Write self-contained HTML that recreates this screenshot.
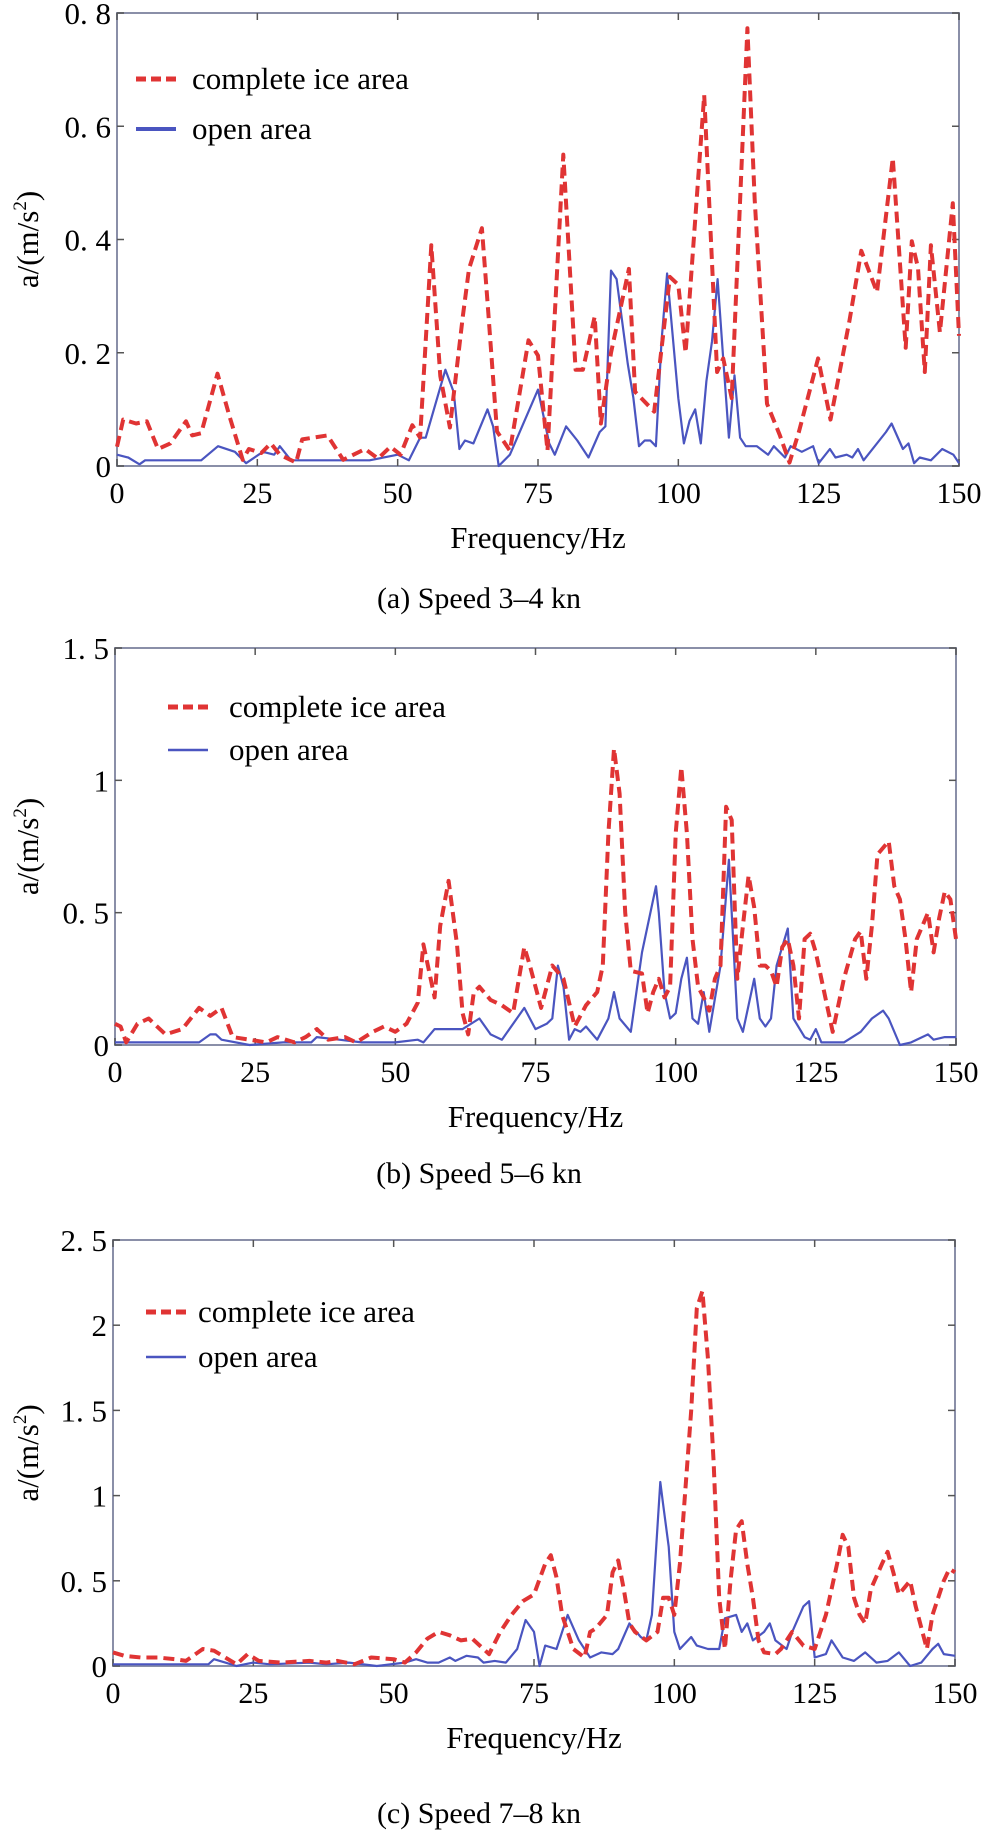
<!DOCTYPE html>
<html><head><meta charset="utf-8"><style>
html,body{margin:0;padding:0;background:#fff;}
svg{display:block;font-family:"Liberation Serif",serif;}
</style></head><body>
<svg id="fig" width="986" height="1833" viewBox="0 0 986 1833" xmlns="http://www.w3.org/2000/svg"></svg>
<script>
const xTicks=[0,25,50,75,100,125,150];
const yTicksA=[0,0.2,0.4,0.6,0.8], yLabA=["0","0. 2","0. 4","0. 6","0. 8"];
const yTicksB=[0,0.5,1,1.5], yLabB=["0","0. 5","1","1. 5"];
const yTicksC=[0,0.5,1,1.5,2,2.5], yLabC=["0","0. 5","1","1. 5","2","2. 5"];

const iceFA=[0,1.1,3.4,5.3,7.3,9.5,12.3,13.4,15,17.9,20,22.4,23.5,25.7,27.4,29,31.9,33,37.5,40.3,44.2,46.5,48.7,50.5,52.6,54,56,57.6,59.3,61.6,62.7,65,66,67.7,70,73.3,75,76.7,79.5,81.7,83,85.1,86.2,88,91.2,92.3,95.7,98.5,100,101.3,104.6,106.9,108,109.5,112.3,113.6,115.8,118.1,119.8,121.5,124.9,127.1,130.5,132.6,135.4,138.2,140.5,141.6,142.7,143.9,145,146.6,148.9,150];
const iceVA=[0.034,0.082,0.075,0.079,0.03,0.04,0.079,0.054,0.058,0.163,0.089,0.011,0.03,0.023,0.04,0.02,0.006,0.047,0.054,0.011,0.03,0.013,0.034,0.02,0.072,0.05,0.39,0.159,0.068,0.264,0.348,0.42,0.29,0.061,0.027,0.222,0.195,0.027,0.55,0.17,0.17,0.264,0.075,0.2,0.348,0.131,0.096,0.334,0.32,0.2,0.655,0.166,0.19,0.12,0.773,0.47,0.11,0.054,0.006,0.061,0.19,0.082,0.257,0.38,0.307,0.544,0.209,0.397,0.35,0.166,0.39,0.236,0.464,0.23];
const openFA=[0,2,4,5,15,18,21,23,26,28,29,31,35,40,45,50,52,54,55,58.5,60,61,62,63.5,66,67,68,70,75,77,78,80,82,84,86,87,88,89,91,92,93,94,95,96,97,98,100,101,102,103,104,105,106,107,108,109,110,111,112,114,116,117,119,120,122,124,125,127,128,130,131,132,133,137,138,140,141,142,143,145,147,149,150];
const openVA=[0.02,0.015,0.003,0.01,0.01,0.035,0.025,0.005,0.025,0.02,0.035,0.01,0.01,0.01,0.01,0.02,0.01,0.05,0.05,0.17,0.13,0.03,0.045,0.04,0.1,0.07,0,0.02,0.135,0.04,0.02,0.07,0.045,0.015,0.06,0.07,0.345,0.33,0.18,0.12,0.035,0.045,0.045,0.035,0.22,0.34,0.12,0.04,0.08,0.1,0.04,0.15,0.22,0.33,0.19,0.05,0.16,0.05,0.035,0.035,0.02,0.035,0.015,0.035,0.025,0.035,0.005,0.03,0.015,0.02,0.015,0.03,0.01,0.06,0.075,0.03,0.04,0.005,0.015,0.01,0.03,0.02,0.005];

const iceFB=[0,1,2,4,6,9,12,15,17,19,21,24,27,29,32,34,36,38,41,43,46,48,50,52,54,55,56,57,58,59.5,61,62,63,64,65,67,69,71,73,74,76,78,80,82,84,86,87,88,89,90,91,92,94,95,96,97,98,99,100,101,102,103,104,105,106,107,108,109,110,111,112,113,114,115,116,117,118,119,120,121,122,123,124,125,127,128,130,132,133,134,135,136,138,139,140,141,142,143,144,145,146,147,148,149,150];
const iceVB=[0.08,0.07,0.01,0.08,0.1,0.04,0.06,0.14,0.11,0.14,0.03,0.02,0.01,0.03,0.01,0.03,0.06,0.02,0.03,0.01,0.05,0.07,0.05,0.08,0.16,0.38,0.28,0.18,0.45,0.62,0.38,0.12,0.04,0.2,0.22,0.17,0.15,0.12,0.37,0.3,0.14,0.3,0.25,0.07,0.15,0.2,0.3,0.8,1.12,0.95,0.5,0.28,0.27,0.12,0.2,0.25,0.18,0.22,0.8,1.05,0.8,0.4,0.22,0.18,0.13,0.25,0.3,0.9,0.85,0.25,0.45,0.64,0.52,0.3,0.3,0.28,0.22,0.37,0.4,0.3,0.1,0.4,0.42,0.35,0.15,0.05,0.25,0.4,0.43,0.25,0.45,0.72,0.77,0.6,0.55,0.4,0.2,0.4,0.45,0.5,0.35,0.48,0.58,0.55,0.4];
const openFB=[0,15,17,18,19,24,30,35,36,40,44,50,54,55,57,62,65,67,69,72,73,75,77,78,79,80,81,82,83,84,86,88,89,90,92,94,96.5,97,98,99,100,101,102,103,104,105,106,108,109.5,110,111,112,114,115,116,117,118,120,121,123,124,125,126,128,130,133,135,137,138,140,142,145,146,148,150];
const openVB=[0.01,0.01,0.04,0.04,0.02,0,0.01,0.01,0.03,0.02,0.01,0.01,0.02,0.01,0.06,0.06,0.1,0.04,0.02,0.11,0.14,0.06,0.08,0.1,0.3,0.22,0.02,0.06,0.05,0.07,0.02,0.1,0.2,0.1,0.05,0.35,0.6,0.5,0.2,0.1,0.12,0.25,0.33,0.1,0.08,0.2,0.05,0.3,0.7,0.5,0.1,0.05,0.25,0.1,0.07,0.1,0.3,0.44,0.1,0.03,0.02,0.06,0.01,0.01,0.01,0.05,0.1,0.13,0.1,0,0.01,0.04,0.02,0.03,0.03];

const iceFC=[0,2,5,8,11,13,16,18,20,22,24,26,30,35,38,40,43,46,50,52,54,56,58,60,62,64,66,67,69,71,73,75,77,78,79,80,81,82,84,85,86,88,89,90,91,92,93,95,97,98,99,100,101,103,104,105,106,107,108,109,110,111,112,113,114,115,116,118,119,121,123,125,127,129,130,131,132,133,134,135,137,138,139,140,142,143,145,146,148,149,150];
const iceVC=[0.08,0.06,0.05,0.05,0.04,0.03,0.1,0.09,0.05,0.01,0.07,0.03,0.02,0.03,0.02,0.03,0.01,0.05,0.04,0.02,0.08,0.16,0.2,0.18,0.15,0.16,0.1,0.07,0.2,0.3,0.38,0.42,0.6,0.65,0.52,0.3,0.2,0.1,0.05,0.2,0.22,0.3,0.55,0.62,0.45,0.25,0.2,0.15,0.2,0.4,0.4,0.3,0.6,1.5,2.1,2.2,1.8,1.2,0.4,0.1,0.5,0.8,0.85,0.6,0.4,0.15,0.08,0.07,0.1,0.2,0.12,0.1,0.3,0.6,0.77,0.7,0.4,0.3,0.25,0.45,0.6,0.67,0.55,0.42,0.5,0.35,0.1,0.3,0.5,0.57,0.55];
const openFC=[0,10,17,18,20,22,25,28,35,38,42,47,52,54,56,58,60,61,63,65,66,68,70,72,73.5,75,76,77,79,81,83,85,87,89,90,92,94,95,96,97.5,98,99,100,101,103,104,106,108,109,111,112,113,114,116,117,118,120,121,123,124,125,127,128,130,132,134,136,138,140,142,144,146,147,148,150];
const openVC=[0.01,0.01,0.01,0.04,0.02,0,0.02,0.01,0.02,0.01,0.02,0,0.02,0.04,0.02,0.02,0.05,0.03,0.06,0.05,0.02,0.03,0.02,0.1,0.27,0.2,0,0.12,0.1,0.3,0.15,0.05,0.08,0.07,0.1,0.25,0.17,0.15,0.3,1.08,0.95,0.7,0.2,0.1,0.17,0.12,0.1,0.1,0.28,0.3,0.2,0.25,0.15,0.2,0.25,0.15,0.1,0.2,0.35,0.38,0.05,0.07,0.15,0.05,0.03,0.08,0.02,0.03,0.08,0,0.02,0.1,0.13,0.07,0.06];

const NS="http://www.w3.org/2000/svg";
const svg=document.getElementById('fig');
function mk(tag,attrs,parent){const e=document.createElementNS(NS,tag);for(const k in attrs)e.setAttribute(k,attrs[k]);(parent||svg).appendChild(e);return e;}

function panel(id,box,ymax,yTicks,yLabs,ice,open,leg,cap){
  const g=mk('g',{});
  
  
  const sx=f=>box.x0+(f/150)*(box.x1-box.x0);
  const sy=v=>box.y1-(v/ymax)*(box.y1-box.y0);
  // frame
  const fr=mk('rect',{x:box.x0,y:box.y0,width:box.x1-box.x0,height:box.y1-box.y0,fill:'none',stroke:'#8a8fa8','stroke-width':2},g);
  
  
  xTicks.forEach(t=>{
    const x=sx(t);
    mk('line',{x1:x,x2:x,y1:box.y1,y2:box.y1-7,stroke:'#555','stroke-width':1.5},g);
    mk('line',{x1:x,x2:x,y1:box.y0,y2:box.y0+7,stroke:'#555','stroke-width':1.5},g);
    const tx=mk('text',{x:x,y:box.y1+37,'font-size':30,'text-anchor':'middle',fill:'#000'},g);
    tx.textContent=t;
    
    
  });
  yTicks.forEach((t,i)=>{
    const y=sy(t);
    mk('line',{x1:box.x0,x2:box.x0+7,y1:y,y2:y,stroke:'#555','stroke-width':1.5},g);
    mk('line',{x1:box.x1,x2:box.x1-7,y1:y,y2:y,stroke:'#555','stroke-width':1.5},g);
    const tx=mk('text',{x:box.x0-6,y:y+11,'font-size':31,'text-anchor':'end',fill:'#000'},g);
    tx.textContent=yLabs[i];
    
    
  });
  const pts=(F,V)=>F.map((f,i)=>sx(f).toFixed(1)+','+sy(V[i]).toFixed(1)).join(' ');
  const po=mk('polyline',{points:pts(open[0],open[1]),fill:'none',stroke:'#4a55c0','stroke-width':2.2,'stroke-linejoin':'round'},g);
  
  
  const pi=mk('polyline',{points:pts(ice[0],ice[1]),fill:'none',stroke:'#e03434','stroke-width':4,'stroke-dasharray':'11,6','stroke-linejoin':'round'},g);
  
  
  // legend
  const l1=mk('line',{x1:leg.x,x2:leg.x+40,y1:leg.y1,y2:leg.y1,stroke:'#e03434','stroke-width':5,'stroke-dasharray':'10,5'},g);
  
  
  const t1=mk('text',{x:leg.tx,y:leg.y1+10,'font-size':31,fill:'#000'},g);
  t1.textContent='complete ice area';
  
  
  const l2=mk('line',{x1:leg.x,x2:leg.x+40,y1:leg.y2,y2:leg.y2,stroke:'#4a55c0','stroke-width':leg.w},g);
  
  
  const t2=mk('text',{x:leg.tx,y:leg.y2+10,'font-size':31,fill:'#000'},g);
  t2.textContent='open area';
  
  
  // axis titles
  const xt=mk('text',{x:(box.x0+box.x1)/2,y:box.y1+82,'font-size':31,'text-anchor':'middle',fill:'#000'},g);
  xt.textContent='Frequency/Hz';
  
  
  const cy=(box.y0+box.y1)/2;
  const yt=mk('text',{x:0,y:0,'font-size':31,'text-anchor':'middle',fill:'#000',transform:'translate(38,'+cy+') rotate(-90)'},g);
  yt.innerHTML='a/(m/s<tspan font-size="19" dy="-12">2</tspan><tspan dy="12">)</tspan>';
  
  
  const ct=mk('text',{x:479,y:cap.y,'font-size':30,'text-anchor':'middle',fill:'#000'},g);
  ct.textContent=cap.t;
  
  
}
panel('a',{x0:117,x1:959,y0:13,y1:466},0.8,yTicksA,yLabA,[iceFA,iceVA],[openFA,openVA],{x:136,tx:192,y1:79,y2:129,w:4},{y:608,t:'(a) Speed 3–4 kn'});
panel('b',{x0:115,x1:956,y0:648,y1:1045},1.5,yTicksB,yLabB,[iceFB,iceVB],[openFB,openVB],{x:168,tx:229,y1:707,y2:750,w:2.5},{y:1183,t:'(b) Speed 5–6 kn'});
panel('c',{x0:113,x1:955,y0:1240,y1:1666},2.5,yTicksC,yLabC,[iceFC,iceVC],[openFC,openVC],{x:146,tx:198,y1:1312,y2:1357,w:2.5},{y:1823,t:'(c) Speed 7–8 kn'});
</script>
</body></html>
